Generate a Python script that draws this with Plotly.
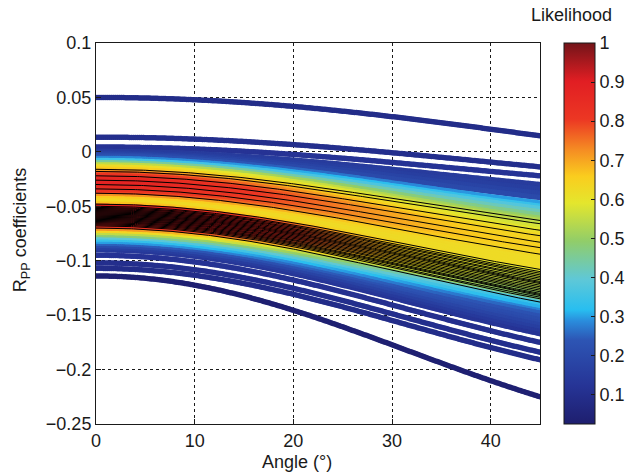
import numpy as np
import plotly.graph_objects as go

# ---- data:
# R_PP value at 0 deg, at 45 deg, curvature (sin^4 term), likelihood at 0 and 45 deg, black outline flag
intercept = [
    0.050, 0.0135, 0.0045, 0.0005, -0.001, -0.002, -0.003,
    -0.004, -0.006, -0.008, -0.010, -0.012, -0.014, -0.016,
    -0.018, -0.020, -0.022, -0.024, -0.026, -0.028, -0.030,
    -0.032, -0.034, -0.036, -0.038, -0.040, -0.042, -0.044,
    -0.046, -0.048, -0.050, -0.052, -0.054, -0.056, -0.058,
    -0.060, -0.062, -0.064, -0.066, -0.068, -0.070, -0.072,
    -0.074, -0.076, -0.078, -0.080, -0.082, -0.084, -0.086,
    -0.088, -0.090, -0.095, -0.102, -0.107, -0.114,
    -0.051, -0.053, -0.055, -0.057, -0.059, -0.061, -0.063, -0.065, -0.067,
]
r45 = [
    0.0147, -0.0138, -0.022, -0.030, -0.034, -0.038, -0.042,
    -0.047, -0.050, -0.052, -0.055, -0.058, -0.061, -0.063,
    -0.066, -0.069, -0.072, -0.074, -0.077, -0.080, -0.083,
    -0.086, -0.088, -0.091, -0.094, -0.097, -0.099, -0.102,
    -0.105, -0.108, -0.110, -0.113, -0.116, -0.119, -0.121,
    -0.124, -0.127, -0.130, -0.132, -0.135, -0.138, -0.141,
    -0.143, -0.146, -0.149, -0.152, -0.154, -0.157, -0.160,
    -0.163, -0.167, -0.175, -0.184, -0.191, -0.225,
    -0.1115, -0.1145, -0.1175, -0.120, -0.1225, -0.1255, -0.1285, -0.131, -0.1335,
]
curvature = [
    0.000, 0.010, 0.015, 0.020, 0.025, 0.030, 0.035,
    0.048, 0.049, 0.049, 0.050, 0.052, 0.053, 0.053,
    0.054, 0.055, 0.056, 0.056, 0.057, 0.058, 0.059,
    0.060, 0.060, 0.062, 0.063, 0.064, 0.064, 0.065,
    0.066, 0.067, 0.067, 0.068, 0.069, 0.071, 0.071,
    0.072, 0.073, 0.074, 0.074, 0.075, 0.076, 0.077,
    0.077, 0.078, 0.080, 0.081, 0.081, 0.082, 0.083,
    0.084, 0.086, 0.090, 0.092, 0.094, 0.124,
    0.068, 0.069, 0.070, 0.071, 0.071, 0.072, 0.073, 0.074, 0.074,
]
lik0 = [
    0.09, 0.10, 0.12, 0.15, 0.16, 0.18, 0.20,
    0.22, 0.28, 0.35, 0.45, 0.55, 0.62, 0.66,
    0.72, 0.78, 0.82, 0.85, 0.87, 0.88, 0.86,
    0.85, 0.83, 0.80, 0.72, 0.66, 0.63, 0.62,
    0.63, 0.67, 0.80, 0.92, 0.96, 0.99, 1.00,
    0.99, 0.97, 0.93, 0.88, 0.80, 0.72, 0.64,
    0.55, 0.48, 0.40, 0.34, 0.30, 0.25, 0.20,
    0.16, 0.14, 0.12, 0.10, 0.09, 0.035,
    0.89, 0.94, 0.98, 1.00, 1.00, 0.98, 0.95, 0.90, 0.84,
]
lik45 = [
    0.09, 0.10, 0.12, 0.15, 0.16, 0.18, 0.20,
    0.30, 0.34, 0.38, 0.42, 0.46, 0.50, 0.53,
    0.55, 0.57, 0.59, 0.61, 0.63, 0.64, 0.65,
    0.65, 0.65, 0.64, 0.63, 0.62, 0.62, 0.62,
    0.62, 0.62, 0.60, 0.58, 0.57, 0.56, 0.55,
    0.53, 0.50, 0.46, 0.42, 0.38, 0.34, 0.31,
    0.28, 0.25, 0.23, 0.21, 0.20, 0.18, 0.16,
    0.14, 0.12, 0.10, 0.10, 0.09, 0.035,
    0.58, 0.57, 0.56, 0.55, 0.54, 0.53, 0.51, 0.49, 0.47,
]
outlined = [
    0, 0, 0, 0, 0, 0, 0,
    0, 0, 0, 0, 0, 0, 1,
    1, 0, 1, 0, 1, 0, 1,
    0, 1, 0, 1, 0, 0, 0,
    0, 1, 1, 1, 1, 1, 1,
    1, 1, 1, 1, 1, 1, 0,
    0, 0, 0, 0, 0, 0, 0,
    0, 0, 0, 0, 0, 0,
    1, 1, 1, 1, 1, 1, 1, 1, 1,
]

x_ticks = [0, 10, 20, 30, 40]
y_ticks = [0.1, 0.05, 0, -0.05, -0.1, -0.15, -0.2, -0.25]
cbar_ticks = [0.1, 0.2, 0.3, 0.4, 0.5, 0.6, 0.7, 0.8, 0.9, 1]

jet_print = [
    [0.00, "rgb(30,30,110)"],
    [0.10, "rgb(38,52,150)"],
    [0.22, "rgb(45,85,180)"],
    [0.27, "rgb(42,140,220)"],
    [0.30, "rgb(40,190,240)"],
    [0.38, "rgb(95,200,215)"],
    [0.48, "rgb(145,205,105)"],
    [0.58, "rgb(228,230,45)"],
    [0.65, "rgb(250,205,30)"],
    [0.72, "rgb(245,140,35)"],
    [0.80, "rgb(236,55,35)"],
    [0.90, "rgb(225,30,35)"],
    [1.00, "rgb(115,20,25)"],
]

theta = np.arange(0, 45.0001, 0.2)
s2 = np.sin(np.radians(theta)) ** 2
u = theta / 45.0
w = 3 * u ** 2 - 2 * u ** 3   # smooth blend between the 0-deg and 45-deg likelihood


def rpp(a, e, c):
    b = 2 * (e - a) - 0.5 * c
    return a + b * s2 + c * s2 ** 2


n = min(len(intercept), len(r45), len(curvature), len(lik0), len(lik45), len(outlined))
order = sorted(range(n), key=lambda i: (lik0[i] + lik45[i]) / 2)

fig = go.Figure()
for i in order:
    y = rpp(intercept[i], r45[i], curvature[i])
    lk = lik0[i] + (lik45[i] - lik0[i]) * w
    fig.add_trace(go.Scatter(
        x=theta, y=y, mode="markers",
        marker=dict(size=5.5, color=lk, coloraxis="coloraxis", line=dict(width=0)),
        hoverinfo="skip", showlegend=False))

for i in order:
    if outlined[i]:
        y = rpp(intercept[i], r45[i], curvature[i])
        fig.add_trace(go.Scatter(
            x=theta, y=y, mode="lines",
            line=dict(color="black", width=1),
            hoverinfo="skip", showlegend=False))

font = dict(family="Liberation Sans, Arial, sans-serif", size=18, color="#1a1a1a")

axis_common = dict(
    showline=True, linecolor="#1a1a1a", linewidth=1, mirror=True,
    ticks="inside", ticklen=5, tickcolor="#1a1a1a",
    showgrid=True, gridcolor="#1a1a1a", gridwidth=1, griddash="3px,3px",
    zeroline=False, tickfont=font,
)

fig.update_layout(
    width=641, height=473,
    margin=dict(l=96, r=100, t=43, b=49),
    paper_bgcolor="white", plot_bgcolor="white",
    font=font,
    xaxis=dict(range=[0, 45], tickvals=x_ticks, **axis_common),
    yaxis=dict(range=[-0.25, 0.1], tickvals=y_ticks, **axis_common),
    coloraxis=dict(
        cmin=0.025, cmax=1, colorscale=jet_print,
        colorbar=dict(
            thickness=31, thicknessmode="pixels", len=1, lenmode="fraction",
            x=1.0517, xanchor="left", xpad=0, y=0.5, yanchor="middle", ypad=0,
            outlinewidth=1, outlinecolor="#1a1a1a",
            tickvals=cbar_ticks, ticktext=[f"{v:g}" for v in cbar_ticks],
            ticks="inside", ticklen=4, tickcolor="#1a1a1a", tickfont=font,
        ),
    ),
    annotations=[
        dict(text="Angle (°)", x=(297 - 96) / 445, y=(424 - 462) / 381,
             xref="paper", yref="paper", showarrow=False, font=font,
             xanchor="center", yanchor="middle"),
        dict(text="R<sub>PP</sub> coefficients", x=(21 - 96) / 445, y=(424 - 230) / 381,
             xref="paper", yref="paper", showarrow=False, font=font, textangle=-90,
             xanchor="center", yanchor="middle"),
        dict(text="Likelihood", x=(573 - 96) / 445, y=(424 - 15) / 381,
             xref="paper", yref="paper", showarrow=False, font=font,
             xanchor="center", yanchor="middle"),
    ],
)

fig.write_html("out.html")
